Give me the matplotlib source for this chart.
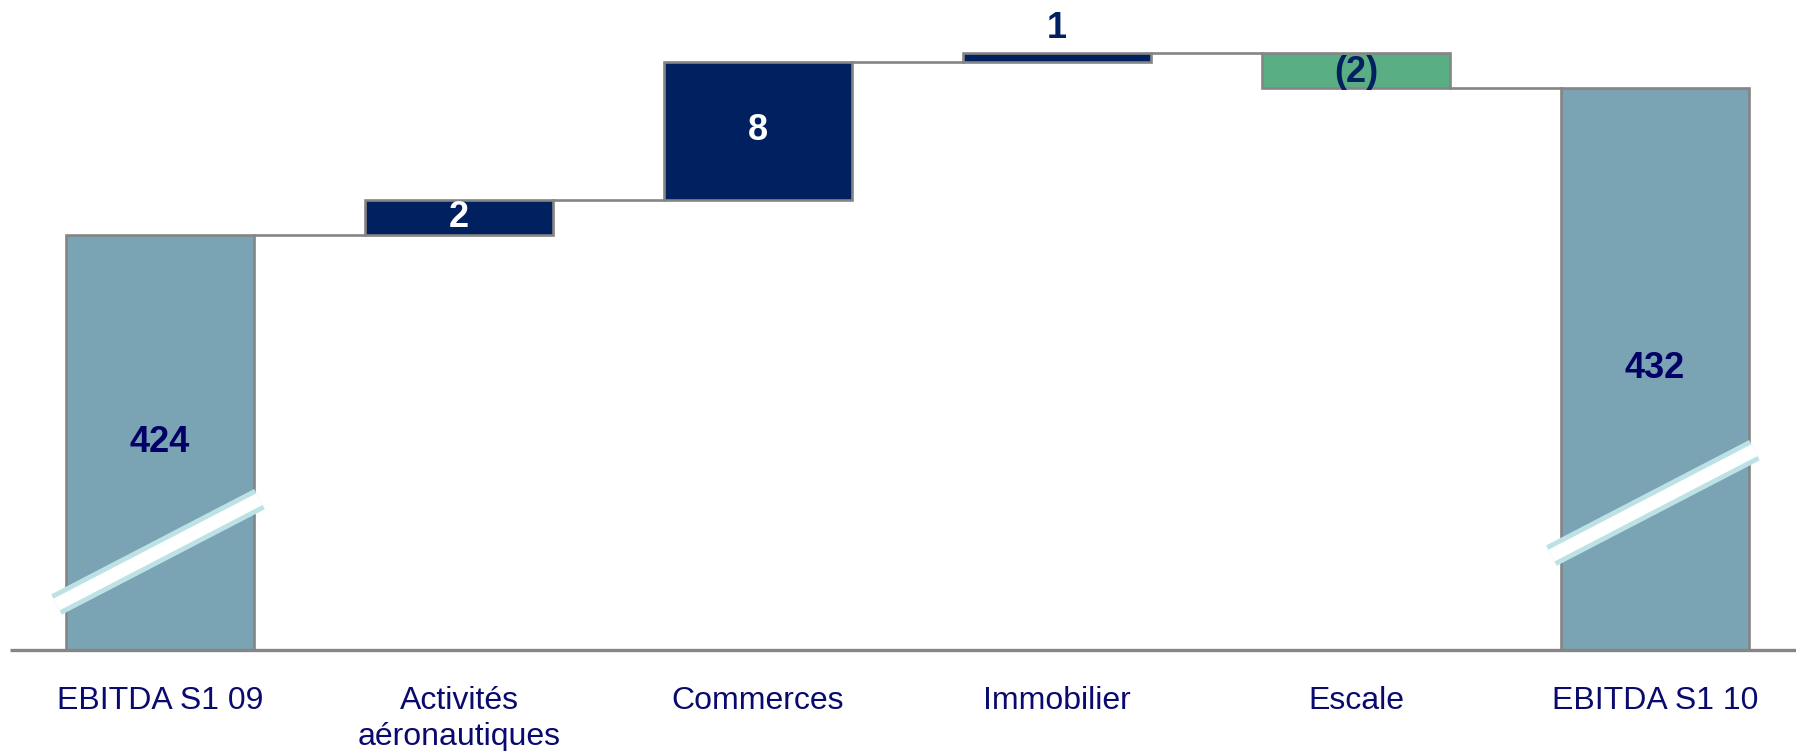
import matplotlib
matplotlib.use("Agg")
import matplotlib.pyplot as plt

plt.rcParams['font.family'] = ['Liberation Sans', 'DejaVu Sans']

categories = ["EBITDA S1 09", "Activités\naéronautiques", "Commerces",
              "Immobilier", "Escale", "EBITDA S1 10"]
start_total = 424.0
deltas = [2.0, 8.0, 0.5, -2.0]
end_total = 432.5
value_labels = ["424", "2", "8", "1", "(2)", "432"]

axis_floor = 400.0
total_color = "#7aa3b4"
up_color = "#00205f"
down_color = "#5aae83"
edge_gray = "#858585"
navy_text = "#000066"
label_navy = "#0a0a6e"

fig = plt.figure(figsize=(17.96, 7.51), dpi=100)
ax = fig.add_axes([0, 101.5 / 751, 1, 649.5 / 751])
ax.set_xlim(-0.535, 5.472)
ax.set_ylim(axis_floor, 437.57)

# bottoms / heights of the waterfall
bottoms, heights, colors = [axis_floor], [start_total - axis_floor], [total_color]
level = start_total
for d in deltas:
    bottoms.append(min(level, level + d))
    heights.append(abs(d))
    colors.append(up_color if d > 0 else down_color)
    level += d
bottoms.append(axis_floor)
heights.append(end_total - axis_floor)
colors.append(total_color)

x = list(range(len(categories)))
width = 0.63
ax.bar(x, heights, bottom=bottoms, width=width, color=colors,
       edgecolor=edge_gray, linewidth=1.9, zorder=3)

# connectors between bars
level = start_total
levels = [start_total]
for d in deltas:
    level += d
    levels.append(level)
for i in range(len(categories) - 1):
    y = levels[i]
    ax.plot([i + width / 2, i + 1 - width / 2], [y, y], color=edge_gray,
            lw=1.9, zorder=2)

# baseline
ax.plot([-0.5, 5.472], [axis_floor, axis_floor], color=edge_gray, lw=2.4,
        zorder=4, clip_on=False, solid_capstyle='butt')

# axis break marks on the total bars
for xi, y0 in [(0, 402.6), (5, 405.43)]:
    xs = [xi - 0.346, xi + 0.333]
    ys = [y0, y0 + 6.1]
    ax.plot(xs, ys, color="#bde2e6", lw=16.5, solid_capstyle='butt', zorder=5)
    ax.plot(xs, ys, color="white", lw=9.5, solid_capstyle='butt', zorder=6)

# value labels
tops = [b + h for b, h in zip(bottoms, heights)]
for i, lab in enumerate(value_labels):
    mid = bottoms[i] + heights[i] / 2
    if i in (0, len(categories) - 1):
        ax.text(i, mid, lab, ha='center', va='center', fontsize=26,
                fontweight='bold', color=navy_text, zorder=7)
    elif colors[i] == up_color and heights[i] >= 1:
        ax.text(i, mid, lab, ha='center', va='center', fontsize=26,
                fontweight='bold', color='white', zorder=7)
    elif colors[i] == up_color:
        ax.text(i, tops[i] + 1.45, lab, ha='center', va='center', fontsize=26,
                fontweight='bold', color=up_color, zorder=7)
    else:
        ax.text(i, mid - 0.1, lab, ha='center', va='center', fontsize=26,
                fontweight='bold', color=up_color, zorder=7)

ax.set_xticks(x)
ax.set_xticklabels(categories, fontsize=23, color=label_navy,
                   linespacing=1.28)
ax.tick_params(axis='x', length=0, pad=26)
ax.set_yticks([])
for s in ax.spines.values():
    s.set_visible(False)

fig.savefig("out.png", dpi=100)
